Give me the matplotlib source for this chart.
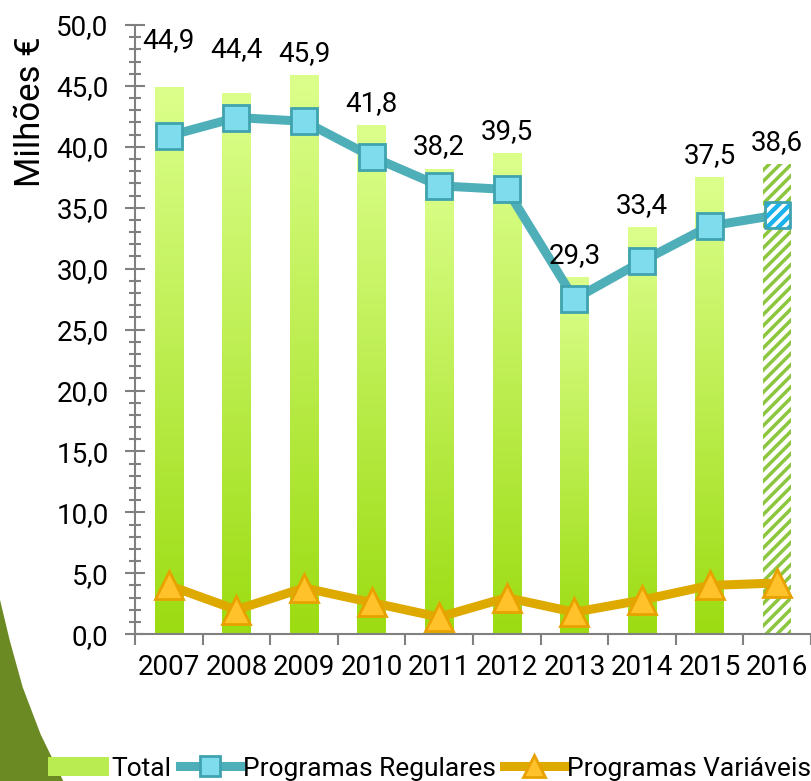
import numpy as np
import matplotlib

matplotlib.use('Agg')
import matplotlib.pyplot as plt
from matplotlib.patches import Patch, Polygon
from matplotlib.lines import Line2D
from matplotlib.colors import LinearSegmentedColormap

years = ['2007', '2008', '2009', '2010', '2011', '2012', '2013', '2014', '2015', '2016']
total = [44.9, 44.4, 45.9, 41.8, 38.2, 39.5, 29.3, 33.4, 37.5, 38.6]
regulares = [40.9, 42.4, 42.1, 39.2, 36.8, 36.5, 27.5, 30.6, 33.5, 34.4]
variaveis = [4.0, 2.0, 3.8, 2.6, 1.4, 3.0, 1.8, 2.8, 4.0, 4.2]

plt.rcParams['font.family'] = ['Roboto', 'DejaVu Sans']
plt.rcParams['hatch.linewidth'] = 2.5


def fmt(v):
    return f"{v:.1f}".replace('.', ',')


fig = plt.figure(figsize=(8.11, 7.81), dpi=100)

# dark green decoration, lower left corner
deco = Polygon([[0, 0.232], [0.012, 0.18], [0.028, 0.12], [0.05, 0.06], [0.078, 0.0], [0, 0]],
               closed=True, transform=fig.transFigure, facecolor='#6b8a23', edgecolor='none', zorder=0)
fig.patches.append(deco)

ax = fig.add_axes([0.1665, 0.188, 0.8335, 0.78])
ax.patch.set_alpha(0)

x = np.arange(len(years))
bar_w = 0.42
cmap = LinearSegmentedColormap.from_list('g', ['#dcff8c', '#9cdc12'])
grad = np.linspace(0, 1, 256).reshape(-1, 1)

bars = ax.bar(x[:-1], total[:-1], width=bar_w, color='#b8ec50', edgecolor='none', zorder=1)
for b in bars:
    x0, y0, w, h = b.get_x(), b.get_y(), b.get_width(), b.get_height()
    im = ax.imshow(grad, cmap=cmap, aspect='auto', extent=(x0, x0 + w, y0, y0 + h),
                   zorder=1.5, interpolation='bilinear')
    im.set_clip_path(b)

ax.bar(x[-1:], total[-1:], width=bar_w, color='white', edgecolor='#8cc63e', hatch='///',
       linewidth=0, zorder=1)

# data labels
nudge = [18, 16, 0, 0, 0, 0, 0, 0, 0, 0]
for i, v in enumerate(total):
    ax.annotate(fmt(v), (x[i], v), xytext=(0, 6 + nudge[i]), textcoords='offset points',
                ha='center', va='bottom', fontsize=20, color='black', zorder=5)

# Programas Regulares
ax.plot(x, regulares, color='#4fafb8', linewidth=6.5, zorder=3, solid_capstyle='round')
ax.plot(x[:-1], regulares[:-1], linestyle='none', marker='s', markersize=19,
        markerfacecolor='#7fdcec', markeredgecolor='#3fa3b0', markeredgewidth=2, zorder=4)
ax.scatter(x[-1:], regulares[-1:], marker='s', s=330, color='#1ab2ec', edgecolor='none', zorder=4)
ax.scatter(x[-1:], regulares[-1:], marker='s', s=330, facecolor='none', edgecolor='white',
           hatch='///', linewidth=0, zorder=4.1)
ax.scatter(x[-1:], regulares[-1:], marker='s', s=330, facecolor='none', edgecolor='#3fa3b0',
           linewidth=2, zorder=4.2)

# Programas Variaveis
ax.plot(x, variaveis, color='#deaa00', linewidth=6.5, zorder=3, solid_capstyle='round')
ax.plot(x, variaveis, linestyle='none', marker='^', markersize=20,
        markerfacecolor='#ffc22a', markeredgecolor='#e8a200', markeredgewidth=2, zorder=4)

ax.set_xlim(-0.5, len(years) - 0.5)
ax.set_ylim(0, 50)
ax.set_yticks(np.arange(0, 50.1, 5))
ax.set_yticklabels([fmt(v) for v in np.arange(0, 50.1, 5)], fontsize=20)
ax.set_yticks(np.arange(0, 50.1, 1), minor=True)
ax.tick_params(axis='y', which='major', direction='inout', length=14, width=1.5, color='#808080', pad=12)
ax.tick_params(axis='y', which='minor', direction='inout', length=9, width=1.5, color='#808080')

ax.set_xticks(x)
ax.set_xticklabels(years, fontsize=20)
ax.set_xticks(np.arange(-0.5, len(years) - 0.4, 1), minor=True)
ax.tick_params(axis='x', which='major', length=0, pad=14)
ax.tick_params(axis='x', which='minor', direction='out', length=8, width=1.5, color='#808080')

for s in ['top', 'right']:
    ax.spines[s].set_visible(False)
for s in ['left', 'bottom']:
    ax.spines[s].set_color('#808080')
    ax.spines[s].set_linewidth(1.5)

ax.set_ylabel('Milhões €', fontsize=25)
ax.yaxis.set_label_coords(-0.13, 0.857)

handles = [
    Patch(facecolor='#b8ec50', edgecolor='none'),
    Line2D([], [], color='#4fafb8', linewidth=6.5, marker='s', markersize=15,
           markerfacecolor='#7fdcec', markeredgecolor='#3fa3b0', markeredgewidth=2),
    Line2D([], [], color='#deaa00', linewidth=6.5, marker='^', markersize=16,
           markerfacecolor='#ffc22a', markeredgecolor='#e8a200', markeredgewidth=2),
]
fig.legend(handles, ['Total', 'Programas Regulares', 'Programas Variáveis'], loc='lower center',
           bbox_to_anchor=(0.53, -0.03), ncol=3, frameon=False, fontsize=19,
           handlelength=2.3, handletextpad=0.1, columnspacing=0.3)

fig.savefig('out.png', dpi=100)
